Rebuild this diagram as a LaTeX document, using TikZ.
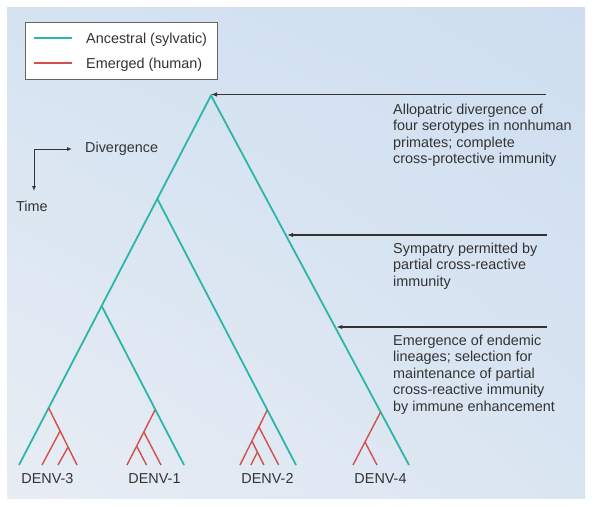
\documentclass[tikz,border=0pt]{standalone}
\usepackage{fontspec}
\setmainfont{Liberation Sans}
\usetikzlibrary{arrows.meta,calc,shadings}
\definecolor{teal1}{HTML}{2DB5A8}
\definecolor{red1}{HTML}{D2504A}
\definecolor{ink}{HTML}{333333}
\definecolor{bgA}{HTML}{D5E3F1}
\definecolor{bgB}{HTML}{CEDEF0}
\definecolor{bgC}{HTML}{E8EDF4}
\definecolor{bgD}{HTML}{DAE5F2}
\begin{document}
\begin{tikzpicture}[x=1pt,y=-1pt,
  anc/.style={draw=teal1,line width=1.8pt},
  emg/.style={draw=red1,line width=1.4pt},
  pointer/.style={draw=ink,line width=1.1pt,-{Latex[length=6pt,width=4.5pt]}},
  axisarrow/.style={draw=ink,line width=0.9pt,-{Latex[length=5pt,width=4pt]}},
  lbl/.style={font=\fontsize{14.4}{16.6}\selectfont,text=ink,inner sep=0pt},
  note/.style={lbl,align=left,anchor=north west}]

\useasboundingbox (0,0) rectangle (601,506);
\fill[white] (0,0) rectangle (601,506);
\shade[upper left=bgA, upper right=bgB, lower left=bgC, lower right=bgD] (7,7) rectangle (585,498);

% legend
\node[draw=ink!75, fill=white, line width=0.8pt, minimum width=192pt, minimum height=57pt,
      anchor=north west, inner sep=0pt] (legend) at (25,22) {};
\coordinate (la1) at (34,38);  \coordinate (la2) at (72,38);
\coordinate (le1) at (34,63);  \coordinate (le2) at (72,63);
\draw[anc] (la1) -- (la2);
\draw[emg] (le1) -- (le2);
\node[lbl,anchor=base west] (lanc) at (86,43) {Ancestral (sylvatic)};
\node[lbl,anchor=base west] (lemg) at (86,68) {Emerged (human)};

% axes
\coordinate (ax) at (34,149);
\coordinate (axr) at (72,149);
\coordinate (axd) at (34,191);
\draw[axisarrow] (ax) -- (axr);
\draw[axisarrow] (ax) -- (axd);
\node[lbl,anchor=base west] (div) at (85,152) {Divergence};
\node[lbl,anchor=base west] (time) at (16,211) {Time};

% ancestral tree
\coordinate (apex) at (211,95.5);
\coordinate (n2) at (157.4,199);
\coordinate (n3) at (101.7,306);
\coordinate (l3) at (19,465);
\coordinate (l1) at (184,465);
\coordinate (l2) at (296,465);
\coordinate (l4) at (409,465);
\draw[anc] (l3) -- (apex) -- (l4);
\draw[anc] (n2) -- (l2);
\draw[anc] (n3) -- (l1);

% DENV-3 emerged
\coordinate (r3) at (48.7,408);
\coordinate (r3e) at (77,465);
\coordinate (a3) at (60.1,431);
\coordinate (a3e) at (42,465);
\coordinate (b3) at (68.1,447);
\coordinate (b3e) at (58,465);
\draw[emg] (r3) -- (r3e);
\draw[emg] (a3) -- (a3e);
\draw[emg] (b3) -- (b3e);

% DENV-1 emerged
\coordinate (r1) at (155,410);
\coordinate (r1e) at (127,465);
\coordinate (a1) at (143.8,432);
\coordinate (a1e) at (161,465);
\coordinate (b1) at (136.6,446);
\coordinate (b1e) at (146.5,465);
\draw[emg] (r1) -- (r1e);
\draw[emg] (a1) -- (a1e);
\draw[emg] (b1) -- (b1e);

% DENV-2 emerged
\coordinate (r2) at (267.3,410);
\coordinate (r2e) at (240,465);
\coordinate (a2) at (258.9,427);
\coordinate (a2e) at (278.7,465);
\coordinate (b2) at (251.9,441);
\coordinate (b2e) at (263.9,465);
\coordinate (c2) at (257.4,452);
\coordinate (c2e) at (250.9,465);
\draw[emg] (r2) -- (r2e);
\draw[emg] (a2) -- (a2e);
\draw[emg] (b2) -- (b2e);
\draw[emg] (c2) -- (c2e);

% DENV-4 emerged
\coordinate (r4) at (380.6,412);
\coordinate (r4e) at (353,465);
\coordinate (a4) at (365,442);
\coordinate (a4e) at (377,465);
\draw[emg] (r4) -- (r4e);
\draw[emg] (a4) -- (a4e);

% leaf labels
\node[lbl,anchor=base] (d3) at (47.5,483) {DENV-3};
\node[lbl,anchor=base] (d1) at (154.5,483) {DENV-1};
\node[lbl,anchor=base] (d2) at (267.5,483) {DENV-2};
\node[lbl,anchor=base] (d4) at (380.5,483) {DENV-4};

% pointers
\path (apex) -- (l4) coordinate[pos=0.3767] (m1) coordinate[pos=0.626] (m2);
\coordinate (p0) at (546,94.5);
\coordinate (p1) at (547,235);
\coordinate (p2) at (547,327);
\draw[pointer] (p0) -- (p0 -| apex);
\draw[pointer,shorten >=1.5pt] (p1) -- (p1 -| m1);
\draw[pointer,shorten >=1.5pt] (p2) -- (p2 -| m2);

% notes
\node[note] (t1) at (393,103.5) {Allopatric divergence of\\four serotypes in nonhuman\\primates; complete\\cross-protective immunity};
\node[note] (t2) at (393,242.5) {Sympatry permitted by\\partial cross-reactive\\immunity};
\node[note] (t3) at (393,334.5) {Emergence of endemic\\lineages; selection for\\maintenance of partial\\cross-reactive immunity\\by immune enhancement};
\end{tikzpicture}
\end{document}
